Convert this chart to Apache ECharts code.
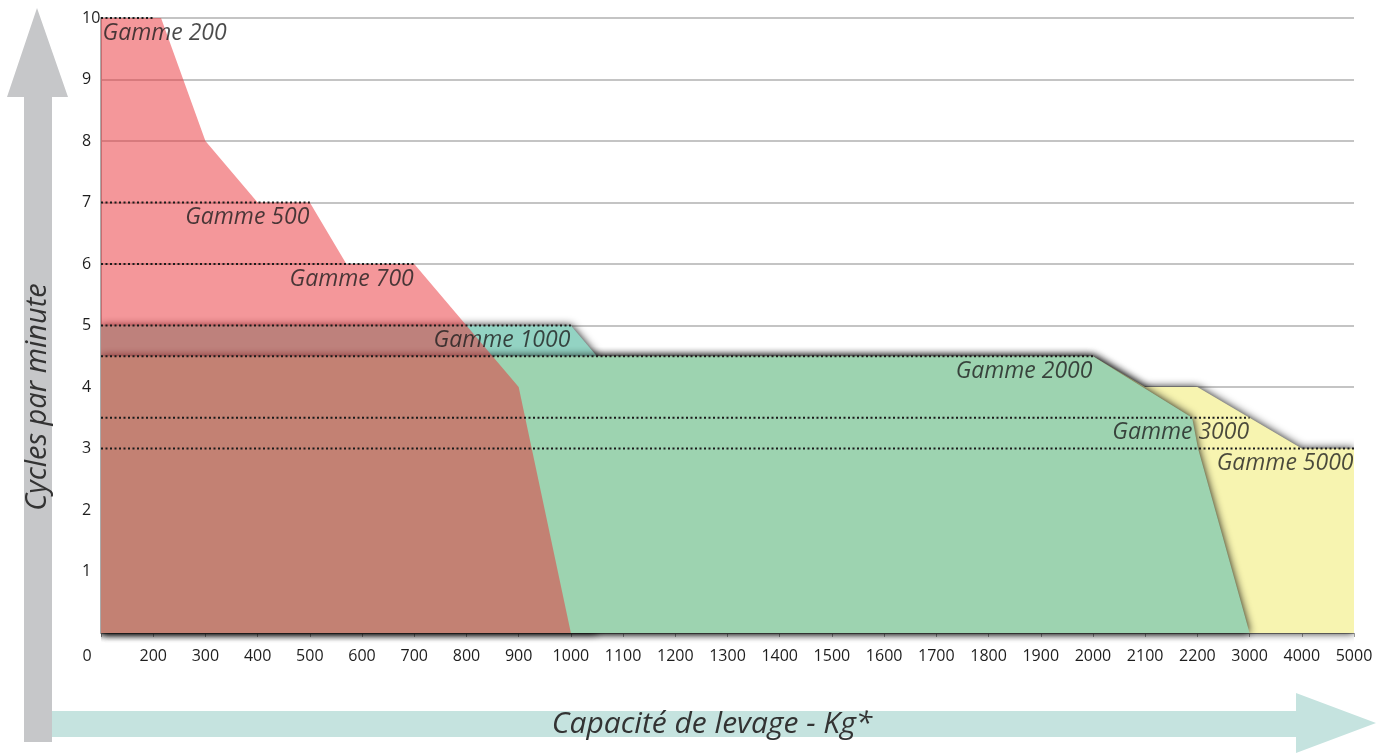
<!DOCTYPE html>
<html>
<head>
<meta charset="utf-8">
<script src="https://cdn.jsdelivr.net/npm/echarts@6/dist/echarts.min.js"></script>
<style>
  html, body { margin: 0; padding: 0; background: #fff; }
  #chart { width: 1377px; height: 755px; }
</style>
</head>
<body>
<div id="chart"></div>
<script>
// tick labels of the capacity axis (non-linear scale)
const xLabels = ['0', '200', '300', '400', '500', '600', '700', '800', '900', '1000', '1100', '1200',
  '1300', '1400', '1500', '1600', '1700', '1800', '1900', '2000', '2100', '2200', '3000', '4000', '5000'];
// kg breakpoints -> axis position
const kgBreaks = [100, 2200, 3000, 4000, 5000];
const posBreaks = [0, 21, 22, 23, 24];

// areas (kg, cycles/min)
const redKg = [100, 215, 300, 400, 500, 570, 700, 900, 1000];
const redCyc = [10, 10, 8, 7, 7, 6, 6, 4, 0];
const tealKg = [100, 1000, 1050];
const tealCyc = [5, 5, 4.5];
const greenKg = [100, 2000, 2190, 2210, 3000];
const greenCyc = [4.5, 4.5, 3.5, 3, 0];
const yellowKg = [100, 2000, 2100, 2200, 4000, 5000];
const yellowCyc = [4.5, 4.5, 4, 4, 3, 3];

// nominal ratings
const gammeNames = ['Gamme 200', 'Gamme 500', 'Gamme 700', 'Gamme 1000', 'Gamme 2000', 'Gamme 3000', 'Gamme 5000'];
const gammeKg = [200, 500, 700, 1000, 2000, 3000, 5000];
const gammeCyc = [10, 7, 6, 5, 4.5, 3.5, 3];

function kgToPos(kg) {
  for (let i = 0; i < kgBreaks.length - 1; i++) {
    if (kg <= kgBreaks[i + 1]) {
      return posBreaks[i] + (kg - kgBreaks[i]) / (kgBreaks[i + 1] - kgBreaks[i]) * (posBreaks[i + 1] - posBreaks[i]);
    }
  }
  return posBreaks[posBreaks.length - 1];
}
function pts(kg, cyc) {
  return kg.map((k, i) => [kgToPos(k), cyc[i]]);
}
function area(name, kg, cyc, color, blur) {
  return {
    name: name, type: 'line', data: pts(kg, cyc), symbol: 'none', silent: true, z: 2, clip: false,
    lineStyle: { width: 0 },
    areaStyle: { color: color, opacity: 1, shadowBlur: blur, shadowColor: 'rgba(0,0,0,0.95)' }
  };
}

const font = "'Open Sans', sans-serif";
let series = [
  area('Gamme 5000', yellowKg, yellowCyc, '#f7f4b0', 9),
  area('Gamme 1000', tealKg, tealCyc, '#93d3c3', 9),
  area('Gamme 2000', greenKg, greenCyc, '#9dd3b0', 9),
  // semi-transparent: no shadow, it would show through
  area('Gamme 200', redKg, redCyc, 'rgba(233,48,53,0.5)', 0)
];
gammeNames.forEach((n, i) => {
  series.push({
    type: 'line', silent: true, symbol: 'none', z: 5,
    data: [[kgToPos(100), gammeCyc[i]], [kgToPos(gammeKg[i]), gammeCyc[i]]],
    lineStyle: { color: '#1a1a1a', width: 2, type: [2, 2.5] }
  });
});
series.push({
  type: 'scatter', silent: true, symbolSize: 1, z: 10,
  itemStyle: { color: 'rgba(0,0,0,0)' },
  data: gammeNames.map((n, i) => ({
    value: i === 0 ? [kgToPos(100), gammeCyc[i]] : [kgToPos(gammeKg[i]), gammeCyc[i]],
    label: {
      show: true, formatter: n, position: [i === 0 ? 2 : 0, 4],
      align: i === 0 ? 'left' : 'right', verticalAlign: 'top',
      fontFamily: font, fontStyle: 'italic', fontSize: 23, color: '#1e1e1e'
    }
  }))
});

let myChart = echarts.init(document.getElementById('chart'));
let option = {
  animation: false,
  grid: { left: 101, right: 23, top: 18, bottom: 122 },
  xAxis: {
    type: 'value', min: 0, max: 24, interval: 1,
    axisLine: { show: true, lineStyle: { color: '#9a9a9a', width: 1 } },
    axisTick: { show: true, length: 4, lineStyle: { color: '#9a9a9a' } },
    splitLine: { show: false },
    axisLabel: {
      margin: 15, fontFamily: font, fontSize: 16, color: '#1e1e1e',
      formatter: (v) => v === 0 ? '{z|0}' : xLabels[v],
      rich: { z: { padding: [0, 28, 0, 0], fontFamily: font, fontSize: 16, color: '#1e1e1e' } }
    }
  },
  yAxis: {
    type: 'value', min: 0, max: 10, interval: 1,
    axisLine: { show: true, lineStyle: { color: '#aaaaaa', width: 2 } },
    axisTick: { show: false },
    splitLine: { show: true, lineStyle: { color: '#c4c4c4', width: 2 } },
    axisLabel: {
      align: 'left', margin: 19, fontFamily: font, fontSize: 16, color: '#1e1e1e',
      formatter: (v) => v === 0 ? '' : String(v)
    }
  },
  graphic: [
    {
      type: 'polygon', z: -10,
      shape: { points: [[37, 8], [68, 97], [52, 97], [52, 742], [24, 742], [24, 97], [7, 97]] },
      style: { fill: '#c6c7c9' }
    },
    {
      type: 'polygon', z: -10,
      shape: { points: [[52, 711], [1296, 711], [1296, 693], [1376, 723], [1296, 753], [1296, 737], [52, 737]] },
      style: { fill: '#c5e3df' }
    },
    {
      type: 'text', x: 38, y: 397, rotation: Math.PI / 2,
      style: { text: 'Cycles par minute', fontFamily: font, fontStyle: 'italic', fontSize: 29,
        fill: '#333', align: 'center', verticalAlign: 'middle' }
    },
    {
      type: 'text', x: 712, y: 724,
      style: { text: 'Capacité de levage - Kg*', fontFamily: font, fontStyle: 'italic', fontSize: 30,
        fill: '#333', align: 'center', verticalAlign: 'middle' }
    }
  ],
  series: series
};
myChart.setOption(option);
</script>
</body>
</html>
